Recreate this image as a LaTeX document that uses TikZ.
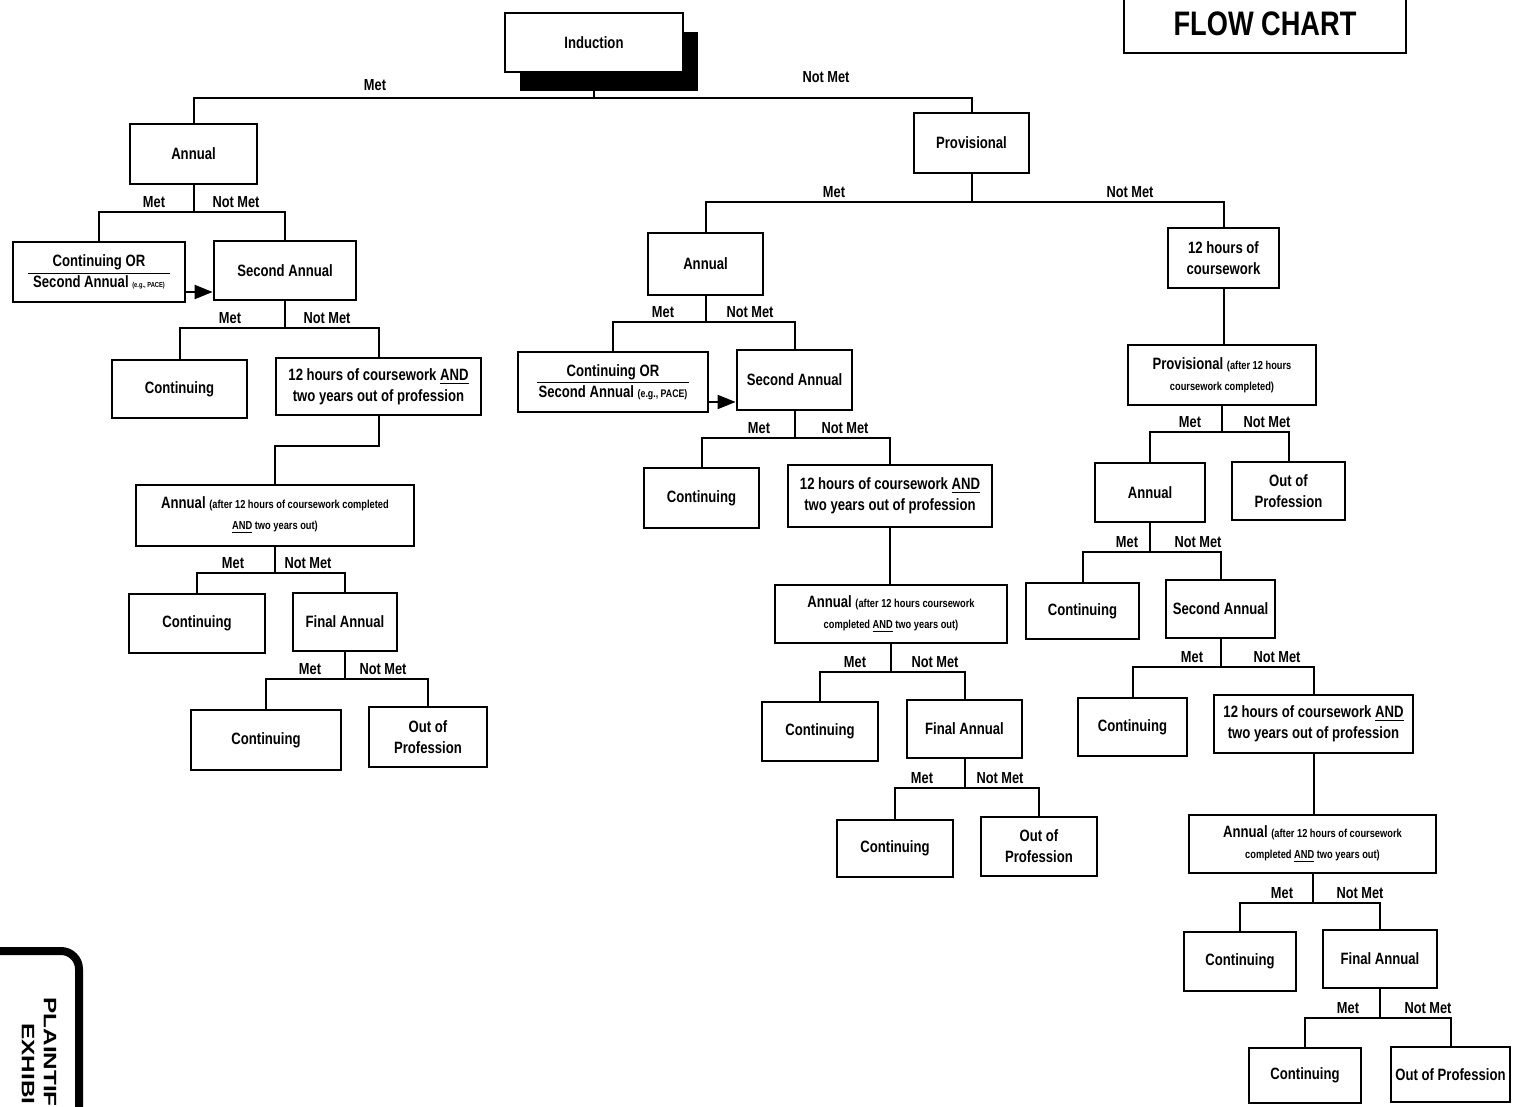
\documentclass[tikz,border=0pt]{standalone}
\usepackage{fontspec}
\usetikzlibrary{arrows.meta, shadows}
\newfontfamily\chartfont{Liberation Sans}[FakeStretch=0.8]
\newfontfamily\stampfont{Liberation Sans}[FakeStretch=1.35]

\newcommand{\sm}[1]{{\fontsize{5.8}{10.5}\selectfont #1}}
% parent, left child, right child, junction y, Met x, Not Met x
\newcommand{\metsplit}[6]{%
  \draw[conn] (#1.south) -- (#1.south |- 0,#4) coordinate (#1-j);
  \draw[conn] (#2.north) |- (#1-j) -| (#3.north);
  \node[lbl] (#1-met) at (#5,#4-10) {Met};
  \node[lbl] (#1-not) at (#6,#4-10) {Not Met};}

\begin{document}
\begin{tikzpicture}[x=0.5pt, y=-0.5pt,
  box/.style={draw, line width=1.4pt, fill=white, align=center, inner sep=1pt,
              font=\chartfont\bfseries\fontsize{8.2}{10.5}\selectfont},
  conn/.style={line width=1pt},
  lbl/.style={inner sep=0pt, font=\chartfont\bfseries\fontsize{8}{9}\selectfont},
  stamp/.style={inner sep=0pt, rotate=-90, anchor=west,
                font=\stampfont\bfseries\fontsize{9}{10}\selectfont}]
  \path[fill=white, use as bounding box] (0,0) rectangle (1539,1107);
  \clip (0,0) rectangle (1539,1107);

  \node[box, minimum width=89pt, minimum height=29.5pt,
        drop shadow={shadow xshift=7.5pt, shadow yshift=-9.5pt, fill=black, opacity=1}]
    (ind) at (594,42.5) {Induction};
  \node[box, line width=1.2pt, minimum width=141pt, minimum height=29pt,
        font=\chartfont\bfseries\fontsize{17}{20}\selectfont]
    (flow) at (1265,24) {FLOW CHART};

  % Met side
  \node[box, minimum width=63.5pt, minimum height=30pt] (a1) at (193.5,154) {Annual};
  \node[box, minimum width=86pt, minimum height=30pt] (co1) at (99,272)
    {\underline{\makebox[71pt]{Continuing OR}}\\Second Annual {\fontsize{3.6}{10.5}\selectfont (e.g., PACE)}};
  \node[box, minimum width=71pt, minimum height=29.5pt] (sa1) at (285,270.5) {Second Annual};
  \node[box, minimum width=67.5pt, minimum height=29pt] (c1) at (179.5,389) {Continuing};
  \node[box, minimum width=102.5pt, minimum height=28.5pt] (h1) at (378.5,386.5)
    {12 hours of coursework \underline{AND}\\two years out of profession};
  \node[box, minimum width=139pt, minimum height=30.5pt] (a2) at (275,515.5)
    {Annual \sm{(after 12 hours of coursework completed}\\\sm{\underline{AND} two years out)}};
  \node[box, minimum width=68pt, minimum height=29.5pt] (c2) at (197,623.5) {Continuing};
  \node[box, minimum width=52pt, minimum height=29pt] (f1) at (345,622) {Final Annual};
  \node[box, minimum width=75pt, minimum height=30pt] (c3) at (266,740) {Continuing};
  \node[box, minimum width=59pt, minimum height=30pt] (o1) at (428,737) {Out of\\Profession};

  % Not Met side
  \node[box, minimum width=57.5pt, minimum height=30pt] (p1) at (971.5,143) {Provisional};
  \node[box, minimum width=57.5pt, minimum height=31pt] (a3) at (705.5,264) {Annual};
  \node[box, minimum width=95pt, minimum height=30pt] (co2) at (613,382)
    {\underline{\makebox[76pt]{Continuing OR}}\\Second Annual {\fontsize{5.5}{10.5}\selectfont (e.g., PACE)}};
  \node[box, minimum width=57.5pt, minimum height=30pt] (sa2) at (794.5,380) {Second Annual};
  \node[box, minimum width=57.5pt, minimum height=30pt] (c4) at (701.5,498) {Continuing};
  \node[box, minimum width=102pt, minimum height=31pt] (h2) at (890,496)
    {12 hours of coursework \underline{AND}\\two years out of profession};
  \node[box, minimum width=116pt, minimum height=29pt] (a4) at (891,614)
    {Annual \sm{(after 12 hours coursework}\\\sm{completed \underline{AND} two years out)}};
  \node[box, minimum width=58pt, minimum height=29.5pt] (c5) at (820,731.5) {Continuing};
  \node[box, minimum width=57.5pt, minimum height=29pt] (f2) at (964.5,729) {Final Annual};
  \node[box, minimum width=58pt, minimum height=28.5pt] (c6) at (895,848.5) {Continuing};
  \node[box, minimum width=58pt, minimum height=29.5pt] (o2) at (1039,846.5) {Out of\\Profession};

  \node[box, minimum width=55.5pt, minimum height=30pt] (h3) at (1223.5,258) {12 hours of\\coursework};
  \node[box, minimum width=94pt, minimum height=30pt] (p2) at (1222,375)
    {Provisional \sm{(after 12 hours}\\\sm{coursework completed)}};
  \node[box, minimum width=55pt, minimum height=29.5pt] (a5) at (1150,492.5) {Annual};
  \node[box, minimum width=56.5pt, minimum height=29pt] (o3) at (1288.5,491) {Out of\\Profession};
  \node[box, minimum width=56.5pt, minimum height=28pt] (c7) at (1082.5,611) {Continuing};
  \node[box, minimum width=54.5pt, minimum height=29pt] (sa3) at (1220.5,609) {Second Annual};
  \node[box, minimum width=54.5pt, minimum height=29pt] (c8) at (1132.5,727) {Continuing};
  \node[box, minimum width=99.5pt, minimum height=29pt] (h4) at (1313.5,724)
    {12 hours of coursework \underline{AND}\\two years out of profession};
  \node[box, minimum width=123.5pt, minimum height=29pt] (a6) at (1312.5,844)
    {Annual \sm{(after 12 hours of coursework}\\\sm{completed \underline{AND} two years out)}};
  \node[box, minimum width=56pt, minimum height=29.5pt] (c9) at (1240,961.5) {Continuing};
  \node[box, minimum width=57pt, minimum height=29pt] (f3) at (1380,959) {Final Annual};
  \node[box, minimum width=56pt, minimum height=27.5pt] (c10) at (1305,1075.5) {Continuing};
  \node[box, minimum width=59.5pt, minimum height=27.5pt] (o4) at (1450.5,1074.5) {Out of Profession};

  % connectors
  \draw[conn] (ind.south) -- (ind.south |- 0,98) coordinate (ind-j);
  \draw[conn] (a1.north) |- (ind-j) -| (p1.north);
  \node[lbl] (ind-met) at (375,85) {Met};
  \node[lbl] (ind-not) at (826,77) {Not Met};

  \metsplit{a1}{co1}{sa1}{212}{154}{236}
  \metsplit{sa1}{c1}{h1}{328}{230}{327}
  \draw[conn] (h1.south) -- ++(0,30) -| (a2.north);
  \metsplit{a2}{c2}{f1}{573}{233}{308}
  \metsplit{f1}{c3}{o1}{679}{310}{383}

  \metsplit{p1}{a3}{h3}{202}{834}{1130}
  \metsplit{a3}{co2}{sa2}{322}{663}{750}
  \metsplit{sa2}{c4}{h2}{438}{759}{845}
  \draw[conn] (h2.south) -- (h2.south |- a4.north);
  \metsplit{a4}{c5}{f2}{672}{855}{935}
  \metsplit{f2}{c6}{o2}{788}{922}{1000}

  \draw[conn] (h3.south) -- (h3.south |- p2.north);
  \metsplit{p2}{a5}{o3}{432}{1190}{1267}
  \metsplit{a5}{c7}{sa3}{552}{1127}{1198}
  \metsplit{sa3}{c8}{h4}{667}{1192}{1277}
  \draw[conn] (h4.south) -- (h4.south |- a6.north);
  \metsplit{a6}{c9}{f3}{903}{1282}{1360}
  \metsplit{f3}{c10}{o4}{1018}{1348}{1428}

  \draw[conn, -{Triangle[length=9pt, width=7pt]}] ([yshift=-10pt]co1.east) -- ([yshift=-10pt]co1.east -| sa1.west);
  \draw[conn, -{Triangle[length=9pt, width=7pt]}] ([yshift=-10pt]co2.east) -- ([yshift=-10pt]co2.east -| sa2.west);

  % exhibit sticker
  \node[draw, line width=4pt, rounded corners=9pt, minimum width=70pt, minimum height=99.5pt]
    (exh) at (9,1050.5) {};
  \node[stamp] (exh-a) at (50,997) {PLAINTIF};
  \node[stamp] (exh-b) at (28,1023) {EXHIBI};
\end{tikzpicture}
\end{document}
